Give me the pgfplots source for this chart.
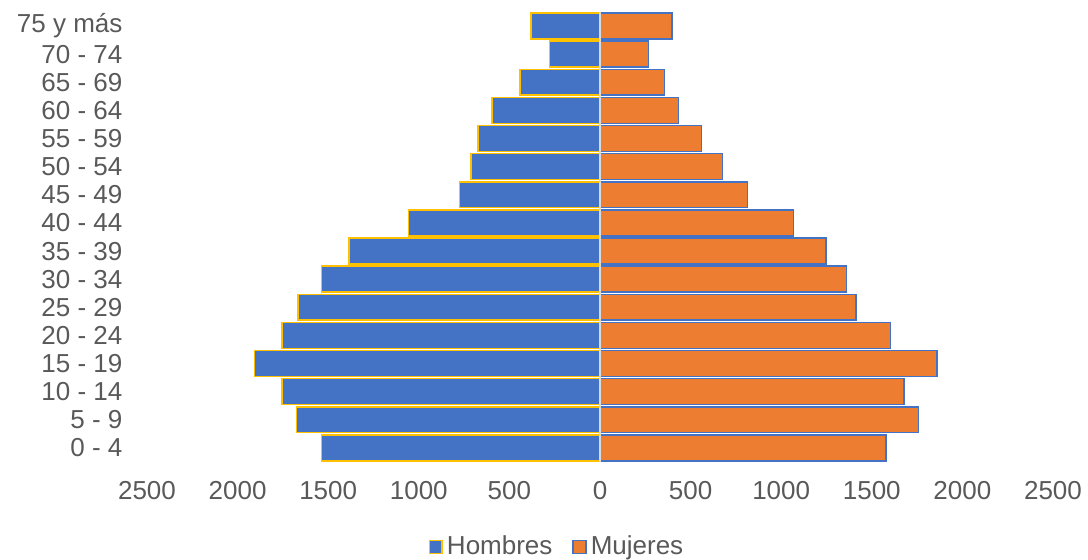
\documentclass[border=0pt]{standalone}
\usepackage{pgfplots}
\pgfplotsset{compat=1.18}
\usepackage{fontspec}
\setmainfont{Liberation Sans}
\definecolor{hblue}{HTML}{4472C4}
\definecolor{morange}{HTML}{ED7D31}
\definecolor{hgold}{HTML}{FFC000}
\definecolor{txtgray}{HTML}{595959}

\pgfplotstableread{
pos hombres mujeres
0  -1536 1578
1  -1675 1759
2  -1755 1678
3  -1908 1860
4  -1755 1604
5  -1666 1413
6  -1536 1361
7  -1385 1247
8  -1056 1067
9  -775  815
10 -711  675
11 -673  559
12 -595  434
13 -442  357
14 -278  269
15 -381  396
}\pyramide

\begin{document}
\begin{tikzpicture}[font=\fontsize{13}{15.6}\selectfont]
\begin{axis}[
width=453pt,
height=225pt,
scale only axis,
xbar,
bar shift=0pt,
bar width=0.92,
xmin=-2500, xmax=2500,
ymin=-0.5, ymax=15.5,
xtick={-2500,-2000,...,2500},
xticklabel={\pgfmathparse{abs(\tick)}\pgfmathprintnumber[assume math mode=true,1000 sep={}]{\pgfmathresult}},
ytick={0,...,15},
yticklabels={0 - 4,5 - 9,10 - 14,15 - 19,20 - 24,25 - 29,30 - 34,35 - 39,40 - 44,45 - 49,50 - 54,55 - 59,60 - 64,65 - 69,70 - 74,75 y más},
axis line style={draw=none},
major tick style={draw=none},
tick label style={text=txtgray},
xticklabel style={yshift=-6pt},
yticklabel style={xshift=-4.5pt},
/pgf/number format/assume math mode=true,
/pgf/number format/1000 sep={},
legend style={at={(0.4536,-0.1889)}, anchor=center, draw=none,
  legend columns=2, text=txtgray,
  /tikz/every even column/.append style={column sep=8pt}},
legend cell align=left,
legend image code/.code={\draw[#1, line width=0.75pt] (0pt,-3.2pt) rectangle (6.4pt,3.2pt);},
]
\addplot[fill=hblue, draw=hgold, line width=0.75pt] table[x=hombres, y=pos] {\pyramide};
\addlegendentry{Hombres}
\addplot[fill=morange, draw=hblue, line width=0.75pt] table[x=mujeres, y=pos] {\pyramide};
\addlegendentry{Mujeres}
\addplot[forget plot, sharp plot, draw=black!15, line width=0.75pt] coordinates {(0,-0.5) (0,15.5)};
\end{axis}
\pgfresetboundingbox
\path[use as bounding box] (-73.5pt,-49pt) rectangle (470.5pt,231pt);
\end{tikzpicture}
\end{document}
